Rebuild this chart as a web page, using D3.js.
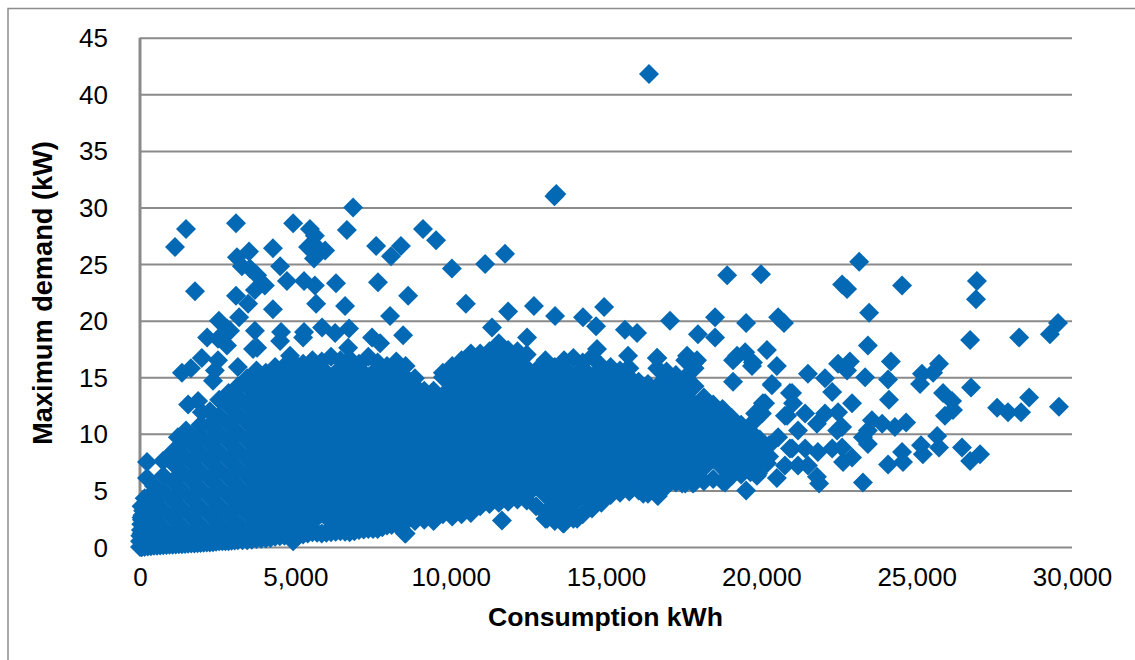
<!DOCTYPE html>
<html>
<head>
<meta charset="utf-8">
<script src="https://cdn.jsdelivr.net/npm/d3@7"></script>
<style>
  html, body { margin: 0; padding: 0; background: #fff; }
  text { font-family: "Liberation Sans", Arial, sans-serif; fill: #000; }
  .axis text { font-size: 26px; }
  .axis .domain { display: none; }
  .axis line { stroke: #8a8a8a; stroke-width: 2px; }
  .title { font-size: 26.6px; font-weight: bold; }
  .title.y { font-size: 27.2px; }
</style>
</head>
<body>
<svg class="chart" width="1135" height="660"></svg>
<script>
//axis ticks and labels
const xTicks = [0, 5000, 10000, 15000, 20000, 25000, 30000];
const yTicks = [0, 5, 10, 15, 20, 25, 30, 35, 40, 45];
const xAxisTitle = "Consumption kWh";
const yAxisTitle = "Maximum demand (kW)";

//scattered customers read one by one: [consumption kWh, maximum demand kW]
const scatteredCustomers = [
  [16385,41.8],[13340,31],[13400,31.2],[6860,30],[3090,28.6],[4930,28.6],[1480,28.1],[5470,28.1],[5630,27.5],[6660,28],[9110,28.1],[9530,27.1],
  [1127,26.5],[5410,26.5],[5730,26.4],[5960,26.2],[5600,25.5],[7600,26.6],[8400,26.6],[8080,25.7],[4280,26.4],[3510,26.1],[3120,25.6],
  [3280,24.8],[3540,24.6],[3770,24],[4020,23.1],[3700,22.7],[4510,24.8],[4730,23.5],[5280,23.5],[5630,23.1],[6310,23.3],[7660,23.4],
  [10040,24.6],[11110,25],[11750,25.9],[1770,22.6],[3090,22.2],[3480,21.5],[4280,21],[5670,21.5],[6600,21.3],[8050,20.4],[8630,22.2],
  [10490,21.5],[11850,20.8],[3190,20.3],[2540,20],[2800,19.3],[3700,19.1],[4540,19],[5280,19],[5860,19.4],[6280,18.9],[6730,19.3],
  [7470,18.5],[8470,18.7],[11330,19.4],[2160,18.5],[2510,18.4],[2900,19.1],[2800,17.8],[3770,17.6],[4510,18.2],[5250,18.5],[6700,17.6],
  [7730,18],[3640,17.5],[1990,16.7],[2510,16.5],[3150,15.9],[1640,15.8],[1350,15.4],[4830,16.9],[2410,15.6],[2350,14.7],[1550,12.6],
  [1870,12.9],[1990,11.9],[1480,10.3],[225,7.5],[225,6.1],[740,7.6],[1220,9.7],[1190,7.8],
  [12680,21.3],[13360,20.4],[14260,20.3],[14940,21.2],[14680,19.5],[15610,19.2],[16000,18.9],[17060,20],[18510,20.3],[19510,19.8],
  [17960,18.8],[18510,18.5],[12460,18.5],[14710,17.5],[15710,16.9],[15710,15.8],[16640,16.7],[17610,16.9],[17930,16.5],[19090,16.5],
  [19480,17.2],[19730,16.3],[19090,14.6],[19220,16.9],[20180,17.4],[20500,16],[20340,14.3],[20920,13.6],[20050,12.7],[19800,11.8],
  [20830,11.6],[20540,9.7],[20920,8.7],[19510,5],[18830,5.7],[19890,6.5],[20500,6.1],[16200,4.7],[16670,4.5],[17800,5.6],[17450,5.6],
  [11650,2.34],[13620,2.07],[13100,2.5],[14070,2.5],[8530,1.2],[4930,0.5],
  [18900,24],[19990,24.1],[23150,25.2],[22600,23.2],[22760,22.8],[24530,23.1],[26940,23.5],[26910,21.9],[20540,20.3],[20730,19.8],
  [23470,20.7],[26720,18.3],[28300,18.5],[29290,18.8],[29550,19.8],[23430,17.8],[19700,16],[24170,16.4],[21500,15.3],[22050,14.9],
  [22470,16.2],[22850,16.4],[22760,15.6],[23340,15],[24080,14.8],[25720,16.2],[25170,15.3],[25530,15.4],[25110,14.4],[26750,14.1],
  [24110,13],[22280,13.7],[25850,13.6],[26140,12.9],[26170,12.1],[25910,11.6],[27590,12.3],[27940,11.9],[28360,11.9],[28620,13.2],
  [29580,12.4],[22920,12.7],[22050,11.8],[22470,11.9],[21790,10.9],[22600,10.6],[23560,11.2],[23890,10.9],[24300,10.6],[24660,11],
  [25660,9.8],[23270,9.7],[23430,9.1],[25140,9],[25720,8.8],[26460,8.8],[27040,8.2],[26720,7.6],[25200,8.2],[24530,8.4],[24560,7.5],
  [24080,7.3],[23270,5.7],[21860,5.6],[21790,6.2],[19860,6.3],[20180,7.4],[20760,7.2],[21180,7.2],[21500,7.2],[20990,8.7],[21410,8.7],
  [21820,8.4],[22280,8.7],[22630,7.5],[22920,7.9],[22600,8.8],[21180,10.3],[20760,11.6],[20990,13.6],[21020,12.7],[21410,11.8],
  [20340,14.4],[20120,12.7],[20020,11.8],[19800,11.2],[23430,10.3],[22440,10.3]
];

//lower and left rim of the mass, it is a nearly smooth edge in the picture
const rimCustomers = [
  [0,0],[0,0.5],[10,1],[30,1.5],[40,2],[60,2.4],[80,2.8],[100,3.2],[150,3.6],[220,4],[300,4.4],[380,4.7],
  [60,0],[150,0.02],[250,0.05],[350,0.07],[550,0.12],[650,0.14],[850,0.17],[950,0.19],[1150,0.22],[1250,0.24],[1450,0.27],[1550,0.29],
  [1750,0.32],[1850,0.34],[2050,0.37],[2150,0.39],[2350,0.43],[2450,0.47],[2650,0.5],[2750,0.5],[2950,0.55],[3050,0.57],[3300,0.6],
  [3600,0.65],[3900,0.72],[4200,0.8],[4500,0.95],[4800,0.9],[5100,1],[5400,1.2],[5700,1.25],[6000,1.25],[6300,1.35],[6600,1.35],
  [6900,1.4],[7200,1.55],[7500,1.6],[7800,1.75],[8100,1.95]
];

//the solid mass, estimated by consumption column: [consumption kWh, [maximum demand kW, ...]]
const denseCustomers = [
  [50,[0,1.2,2.6,3.6]],
  [150,[0.05,1.65,3.25,4.3]],
  [450,[0.1,0.9,2.5,4.1,5.4]],
  [750,[0.15,1.7,3.3,4.9,6.3]],
  [1050,[0.2,1,2.6,4.2,5.8,7.4,8.4]],
  [1350,[0.25,1.8,3.4,5,6.6,8.2,9.2]],
  [1650,[0.3,1.1,2.7,4.3,5.9,7.5,9.1,9.9]],
  [1950,[0.35,1.9,3.5,5.1,6.7,8.3,9.9,10.8]],
  [2250,[0.4,1.2,2.8,4.4,6,7.6,9.2,10.8,12]],
  [2550,[0.5,2,3.6,5.2,6.8,8.4,10,11.6,13]],
  [2850,[0.5,1.3,2.9,4.5,6.1,7.7,9.3,10.9,12.5,13.6]],
  [3150,[0.6,2.1,3.7,5.3,6.9,8.5,10.1,11.7,13.3,14.2]],
  [3450,[0.6,1.4,3,4.6,6.2,7.8,9.4,11,12.6,14.2,14.9]],
  [3750,[0.7,2.2,3.8,5.4,7,8.6,10.2,11.8,13.4,14.9,15.6]],
  [4050,[0.75,1.4,3,4.6,6.2,7.8,9.4,11,12.6,14.2,15.4]],
  [4350,[0.9,2.2,3.8,5.4,7,8.6,10.2,11.8,13.4,15,15.9]],
  [4650,[1,1.4,3,4.6,6.2,7.8,9.4,11,12.6,14.2,15.8,16]],
  [4950,[0.9,2.2,3.8,5.4,7,8.6,10.2,11.8,13.4,15,16.3]],
  [5250,[1.1,1.4,3,4.6,6.2,7.8,9.4,11,12.6,14.2,15.8,16.2]],
  [5550,[1.3,2.2,3.8,5.4,7,8.6,10.2,11.8,13.4,15,16.5]],
  [5850,[1.2,3,4.6,6.2,7.8,9.4,11,12.6,14.2,15.8,16.4]],
  [6150,[1.3,2.2,3.8,5.4,7,8.6,10.2,11.8,13.4,15,16.8]],
  [6450,[1.4,3,4.6,6.2,7.8,9.4,11,12.6,14.2,15.8,16.5]],
  [6750,[1.3,2.2,3.8,5.4,7,8.6,10.2,11.8,13.4,15,16.6]],
  [7050,[1.5,3,4.6,6.2,7.8,9.4,11,12.6,14.2,15.8,16.2]],
  [7350,[1.6,2.2,3.8,5.4,7,8.6,10.2,11.8,13.4,15,16.8]],
  [7650,[1.6,3,4.6,6.2,7.8,9.4,11,12.6,14.2,15.8,16.3]],
  [7950,[1.9,2.2,3.8,5.4,7,8.6,10.2,11.8,13.4,15,16]],
  [8250,[2,3,4.6,6.2,7.8,9.4,11,12.6,14.2,15.8,16.4]],
  [8550,[1.2,2.2,3.8,5.4,7,8.6,10.2,11.8,13.4,15,16]],
  [8850,[2.3,3,4.6,6.2,7.8,9.4,11,12.6,14.2,14.9]],
  [9150,[2.4,3.8,5.4,7,8.6,10.2,11.8,13.4,13.8]],
  [9450,[2.3,3,4.6,6.2,7.8,9.4,11,12.6,13.8]],
  [9750,[2.9,3.8,5.4,7,8.6,10.2,11.8,13.4,15,15.4]],
  [10050,[2.7,3,4.6,6.2,7.8,9.4,11,12.6,14.2,15.8,16]],
  [10350,[2.9,3.8,5.4,7,8.6,10.2,11.8,13.4,15,16.5]],
  [10650,[3,4.6,6.2,7.8,9.4,11,12.6,14.2,15.8,17.1]],
  [10950,[3.6,3.8,5.4,7,8.6,10.2,11.8,13.4,15,16.6,17.1]],
  [11250,[3.8,4.6,6.2,7.8,9.4,11,12.6,14.2,15.8,17.3]],
  [11550,[3.9,5.4,7,8.6,10.2,11.8,13.4,15,16.6,18]],
  [11850,[4,4.6,6.2,7.8,9.4,11,12.6,14.2,15.8,17.4]],
  [12150,[4.2,5.4,7,8.6,10.2,11.8,13.4,15,16.6,17.3]],
  [12450,[4.1,4.6,6.2,7.8,9.4,11,12.6,14.2,15.8,17]],
  [12750,[3.6,5.4,7,8.6,10.2,11.8,13.4,15,15.6]],
  [13050,[2.5,3,4.6,6.2,7.8,9.4,11,12.6,14.2,15.8,16.5]],
  [13350,[2.3,3.8,5.4,7,8.6,10.2,11.8,13.4,15,15.9]],
  [13650,[2.1,3,4.6,6.2,7.8,9.4,11,12.6,14.2,15.8,16.5]],
  [13950,[2.5,3.8,5.4,7,8.6,10.2,11.8,13.4,15,16.7]],
  [14250,[2.9,4.6,6.2,7.8,9.4,11,12.6,14.2,15.8,16.3]],
  [14550,[3.4,3.8,5.4,7,8.6,10.2,11.8,13.4,15,16.8]],
  [14850,[3.9,4.6,6.2,7.8,9.4,11,12.6,14.2,15.8,16]],
  [15150,[4.6,5.4,7,8.6,10.2,11.8,13.4,15,15.9]],
  [15450,[4.8,6.2,7.8,9.4,11,12.6,14.2,15.6]],
  [15750,[4.9,5.4,7,8.6,10.2,11.8,13.4,15,15.8]],
  [16050,[5,6.2,7.8,9.4,11,12.6,14.2,14.6]],
  [16350,[4.7,5.4,7,8.6,10.2,11.8,13.4,14.4]],
  [16650,[4.6,6.2,7.8,9.4,11,12.6,14.2,15.8,16.7]],
  [16950,[5.4,7,8.6,10.2,11.8,13.4,15,15.5]],
  [17250,[5.7,6.2,7.8,9.4,11,12.6,14.2,15.2]],
  [17550,[5.6,7,8.6,10.2,11.8,13.4,15,16.5]],
  [17850,[5.7,6.2,7.8,9.4,11,12.6,14.2,15.8,16.3]],
  [18150,[5.8,7,8.6,10.2,11.8,13.2]],
  [18450,[6,7.8,9.4,11,12.6]],
  [18750,[5.8,7,8.6,10.2,11.8,12.2]],
  [19050,[6.3,7.8,9.4,11,11.4]],
  [19350,[6.4,7,8.6,10.2,10.8]],
  [19650,[6.6,7.8,9.4,10.2]],
  [19950,[7.4,8.6,9.5]],
  [20250,[8,9]]
];

const points = scatteredCustomers.concat(
  rimCustomers,
  denseCustomers.flatMap(function (col) {
    return col[1].map(function (d) { return [col[0], d]; });
  })
);

//svg chart variables
const plot = {left: 140, right: 1072, top: 37.7, bottom: 547};
const markerColor = "#0469b5";

const x = d3.scaleLinear().domain([0, 30000]).range([plot.left, plot.right]);
const y = d3.scaleLinear().domain([0, 45]).range([plot.bottom, plot.top]);

const chart = d3.select(".chart");

//outer frame, only top and left are in the picture
chart.append("path")
  .attr("d", "M8,660V8.5H1135")
  .attr("fill", "none")
  .attr("stroke", "#8c8c8c")
  .attr("stroke-width", 1.5);

//y axis with gridlines
const yAxis = chart.append("g")
  .attr("class", "axis")
  .attr("transform", "translate(" + plot.left + ",0)")
  .call(d3.axisLeft(y)
    .tickValues(yTicks)
    .tickSize(-(plot.right - plot.left))
    .tickSizeOuter(0)
    .tickPadding(0)
    .tickFormat(d3.format("d")));
yAxis.selectAll("text").attr("x", -32).attr("dy", "0.35em");

//x axis, labels only
const xAxis = chart.append("g")
  .attr("class", "axis")
  .attr("transform", "translate(0," + plot.bottom + ")")
  .call(d3.axisBottom(x)
    .tickValues(xTicks)
    .tickSize(0)
    .tickFormat(d3.format(",")));
xAxis.selectAll("text").attr("y", 21).attr("dy", "0.71em");

//left axis line
chart.append("line")
  .attr("x1", x(0)).attr("x2", x(0))
  .attr("y1", y(45)).attr("y2", y(0))
  .attr("stroke", "#8a8a8a")
  .attr("stroke-width", 3);

//markers, diamonds are rotated squares
const marker = d3.symbol().type(d3.symbolSquare).size(200);
chart.append("g")
  .selectAll("path")
  .data(points)
  .enter()
  .append("path")
  .attr("d", marker)
  .attr("fill", markerColor)
  .attr("transform", function (d) {
    return "translate(" + x(d[0]) + "," + y(d[1]) + ")rotate(45)";
  });

//axes labels
chart.append("text")
  .attr("class", "title")
  .attr("x", 605.5)
  .attr("y", 626)
  .attr("text-anchor", "middle")
  .text(xAxisTitle);
chart.append("text")
  .attr("class", "title y")
  .attr("transform", "translate(52,293)rotate(-90)")
  .attr("text-anchor", "middle")
  .text(yAxisTitle);
</script>
</body>
</html>
